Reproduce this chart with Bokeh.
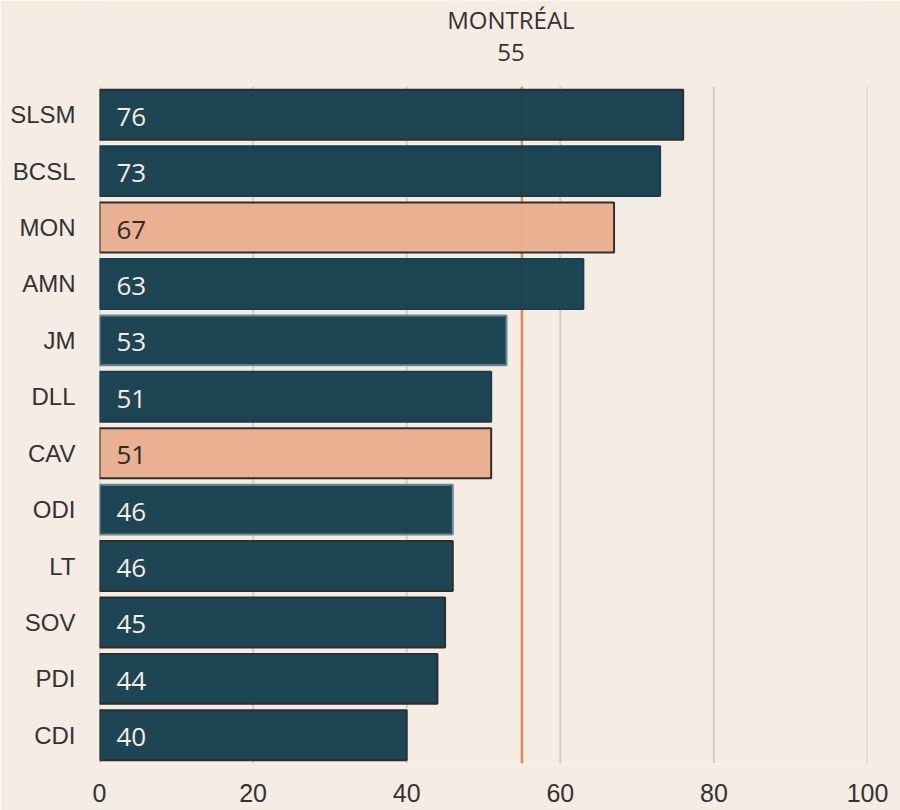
from bokeh.plotting import figure
from bokeh.models import Range1d, FixedTicker, ColumnDataSource
from bokeh.core.properties import value
from bokeh.embed import file_html
from bokeh.resources import INLINE

# ---- data ----
categories = ["SLSM", "BCSL", "MON", "AMN", "JM", "DLL", "CAV", "ODI", "LT", "SOV", "PDI", "CDI"]
scores = [76, 73, 67, 63, 53, 51, 51, 46, 46, 45, 44, 40]
highlighted = ["MON", "CAV"]
montreal_label = "MONTRÉAL"
montreal_value = 55
x_ticks = [0, 20, 40, 60, 80, 100]

# ---- styles ----
BG = "#f5ede3"
TEAL = "#173f4e"
SALMON = "#e8ae8e"
GRID = "#d6cec4"
outline_style = {
    "SLSM": "dark", "BCSL": "none", "MON": "dark", "AMN": "none", "JM": "light",
    "DLL": "none", "CAV": "dark", "ODI": "light", "LT": "dark", "SOV": "dark",
    "PDI": "dark", "CDI": "dark",
}
outline_colors = {"dark": "#2e2e2e", "light": "#6d8891", "none": TEAL}

n = len(categories)
ypos = list(range(n))[::-1]          # first category at the top
fills = [SALMON if c in highlighted else TEAL for c in categories]
line_cols = [outline_colors[outline_style[c]] for c in categories]
text_cols = ["#2b2b2b" if c in highlighted else "#f3ede6" for c in categories]
labels = [str(v) for v in scores]

source = ColumnDataSource(dict(y=ypos, val=scores, fill=fills, line=line_cols,
                               tcol=text_cols, lab=labels, zero=[0] * n))

# ---- layout ----
W, H = 900, 810
BL, BR, BB = 99, 33, 47
HEADER_PX = 86
frame_h = H - BB
unit_px = (frame_h - HEADER_PX) / n
y_lo = -0.5
y_top = n - 0.5
y_hi = y_top + HEADER_PX / unit_px

p = figure(width=W, height=H, output_backend="svg", toolbar_location=None,
           x_range=Range1d(0, 100), y_range=Range1d(y_lo, y_hi),
           min_border_left=BL, min_border_right=BR, min_border_top=0, min_border_bottom=BB)
p.background_fill_color = BG
p.border_fill_color = BG
p.outline_line_color = None
p.xgrid.grid_line_color = None
p.ygrid.grid_line_color = None

# vertical grid lines (only over the bar area)
p.segment(x0=x_ticks, x1=x_ticks, y0=[y_lo] * len(x_ticks), y1=[y_top] * len(x_ticks),
          line_color=GRID, line_width=2)

# Montréal reference line
p.segment(x0=[montreal_value], x1=[montreal_value], y0=[y_lo], y1=[y_top],
          line_color="#e4875b", line_width=2.5)

p.hbar(y="y", left="zero", right="val", height=0.885, source=source,
       fill_color="fill", fill_alpha=0.97, line_color="line", line_width=2)

p.text(x="zero", y="y", text="lab", source=source, x_offset=17, y_offset=2,
       text_align="left", text_baseline="middle", text_color="tcol",
       text_font=value("Open Sans"), text_font_size="26px")

# header above the reference line
p.text(x=[montreal_value, montreal_value], y=[y_top, y_top],
       text=[montreal_label, str(montreal_value)], x_offset=-11, y_offset=[-67, -34],
       text_align="center", text_baseline="middle", text_color="#333333",
       text_font=value("Open Sans"), text_font_size="24px")

# axes
p.xaxis.ticker = FixedTicker(ticks=x_ticks)
p.yaxis.ticker = FixedTicker(ticks=ypos)
p.yaxis.major_label_overrides = {y: c for y, c in zip(ypos, categories)}
for ax in (p.xaxis, p.yaxis):
    ax.axis_line_color = None
    ax.major_tick_line_color = None
    ax.minor_tick_line_color = None
    ax.major_tick_out = 0
    ax.major_tick_in = 0
p.xaxis.major_label_text_font = "Liberation Sans"
p.xaxis.major_label_text_font_size = "25px"
p.xaxis.major_label_text_color = "#333333"
p.xaxis.major_label_standoff = 20
p.yaxis.major_label_text_font = "Liberation Sans"
p.yaxis.major_label_text_font_size = "24px"
p.yaxis.major_label_text_color = "#333333"
p.yaxis.major_label_standoff = 24

open("out.html", "w").write(file_html(p, INLINE))
